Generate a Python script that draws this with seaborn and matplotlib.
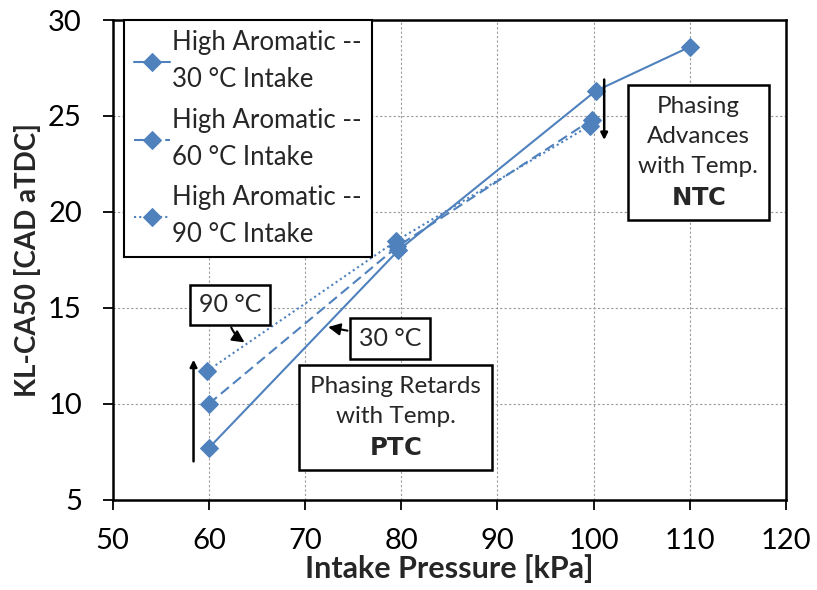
import matplotlib
matplotlib.use("Agg")
import matplotlib.pyplot as plt
import seaborn as sns
import pandas as pd

# Data
pressure_30 = [60, 79.7, 100.2, 110]
ca50_30 = [7.7, 18.0, 26.3, 28.6]
pressure_60 = [60, 79.6, 99.8]
ca50_60 = [10.0, 18.2, 24.8]
pressure_90 = [59.8, 79.5, 99.6]
ca50_90 = [11.7, 18.5, 24.5]
labels = ["High Aromatic --\n30 °C Intake", "High Aromatic --\n60 °C Intake", "High Aromatic --\n90 °C Intake"]
x_ticks = [50, 60, 70, 80, 90, 100, 110, 120]
y_ticks = [5, 10, 15, 20, 25, 30]

sns.set_style("white")
plt.rcParams['font.family'] = ['Lato', 'DejaVu Sans']

fig = plt.figure(figsize=(8.17, 5.90), dpi=100)
ax = fig.add_axes([0.138, 0.153, 0.824, 0.813])

color = "#4F81BD"
series = [(pressure_30, ca50_30, "-"), (pressure_60, ca50_60, (0, (5, 2.5))), (pressure_90, ca50_90, (0, (1, 1.5)))]
for (px, py, ls), lab in zip(series, labels):
    df = pd.DataFrame({"x": px, "y": py})
    sns.lineplot(data=df, x="x", y="y", ax=ax, color=color, marker="D", markersize=9,
                 markeredgecolor=color, linestyle=ls, linewidth=1.5, sort=False, label=lab)

ax.set_xlim(50, 120)
ax.set_ylim(5, 30)
ax.set_xticks(x_ticks)
ax.set_yticks(y_ticks)
ax.grid(True, color="#9a9a9a", linestyle=(0, (2, 2)), linewidth=0.8)
for s in ax.spines.values():
    s.set_color("black")
    s.set_linewidth(1.8)
ax.tick_params(direction="out", length=7.2, width=1.3, labelsize=21, colors="black",
               bottom=True, left=True)
ax.tick_params(axis="x", pad=13)
ax.tick_params(axis="y", pad=15)
ax.set_xlabel("Intake Pressure [kPa]", fontsize=22, fontweight="bold", labelpad=0)
ax.set_ylabel("KL-CA50 [CAD aTDC]", fontsize=20, fontweight="bold", labelpad=5)

leg = ax.legend(loc="upper left", bbox_to_anchor=(0.016, 1.0), fontsize=18.5, frameon=True,
                fancybox=False, edgecolor="black", framealpha=1, handlelength=1.4,
                handletextpad=0.08, borderpad=0.4, labelspacing=0.6, borderaxespad=0)
leg.get_frame().set_linewidth(1.5)
for t in leg.get_texts():
    t.set_linespacing(1.6)

box = dict(boxstyle="square,pad=0.45", fc="white", ec="black", lw=1.8)
ax.text(79.4, 9.3, "Phasing Retards\nwith Temp.\n$\\mathbf{PTC}$", fontsize=17.5, ha="center", va="center",
        bbox=box, linespacing=1.55)
ax.text(110.9, 23.1, "Phasing\nAdvances\nwith Temp.\n$\\mathbf{NTC}$", fontsize=17.5, ha="center", va="center",
        bbox=box, linespacing=1.55)
ax.annotate("90 °C", xy=(63.7, 13.2), xytext=(62.2, 15.15), fontsize=18, ha="center", va="center",
            bbox=dict(boxstyle="square,pad=0.35", fc="white", ec="black", lw=1.8),
            arrowprops=dict(arrowstyle="-|>", color="black", lw=1.5, shrinkA=1, shrinkB=0,
                            connectionstyle="arc3,rad=0.35"))
ax.annotate("30 °C", xy=(72.4, 14.0), xytext=(78.8, 13.4), fontsize=18, ha="center", va="center",
            bbox=dict(boxstyle="square,pad=0.35", fc="white", ec="black", lw=1.8),
            arrowprops=dict(arrowstyle="-|>", color="black", lw=1.5, shrinkA=1, shrinkB=0))
ax.annotate("", xy=(58.4, 12.3), xytext=(58.4, 7.0),
            arrowprops=dict(arrowstyle="-|>", color="black", lw=1.8, shrinkA=0, shrinkB=0))
ax.annotate("", xy=(101.1, 23.75), xytext=(101.1, 26.9),
            arrowprops=dict(arrowstyle="-|>", color="black", lw=1.8, shrinkA=0, shrinkB=0))

fig.savefig("out.png", dpi=100)
